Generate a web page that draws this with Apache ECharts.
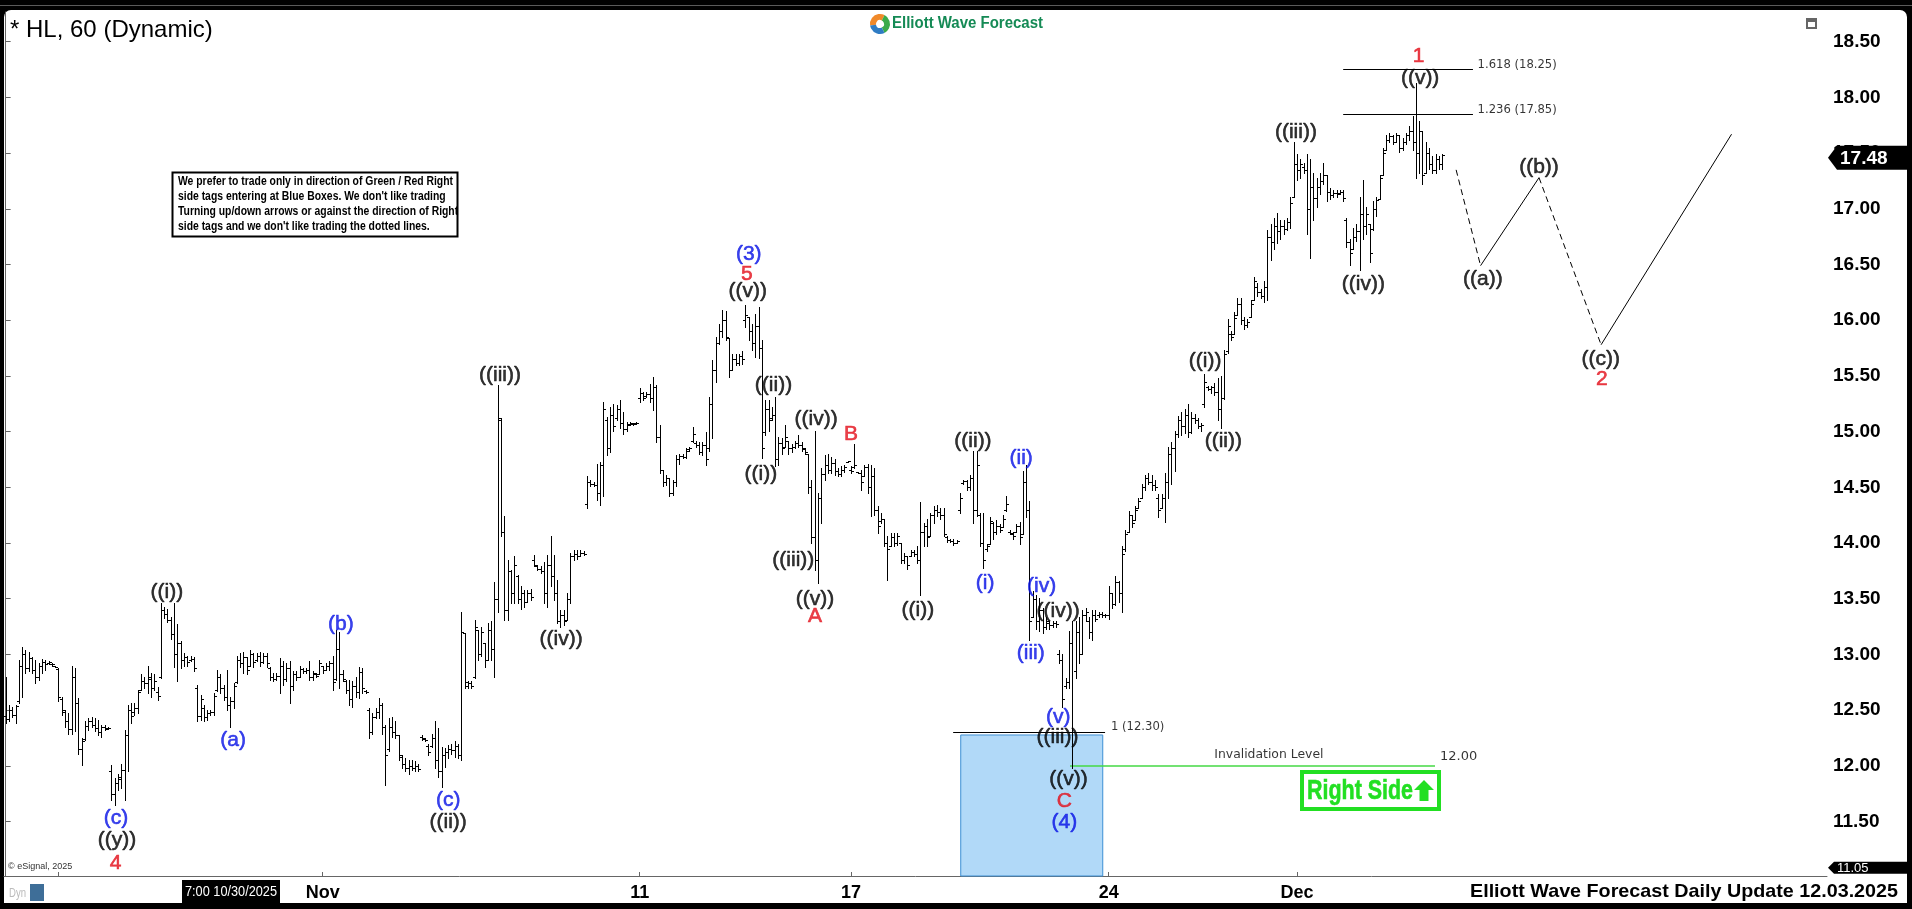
<!DOCTYPE html>
<html><head><meta charset="utf-8">
<script src="https://cdn.jsdelivr.net/npm/echarts@6/dist/echarts.min.js"></script>
<style>
html,body{margin:0;padding:0;background:#000;width:1912px;height:909px;overflow:hidden}
#topline{position:absolute;left:0;top:5px;width:1912px;height:1px;background:#5a5a5a}
#panel{position:absolute;left:4px;top:10px;width:1903px;height:893px;background:#fff;border-radius:7px 7px 0 0}
#chart{position:absolute;left:0;top:0;width:1912px;height:909px}
</style></head><body>
<div id="topline"></div>
<div id="panel"></div>
<div id="chart"></div>
<script>
// ---------- DATA (hourly OHLC, bar index 0 = first visible bar) ----------
const highs = [
12.80,12.55,12.53,12.55,12.95,13.07,13.04,13.02,12.98,12.95,
12.92,12.96,12.95,12.94,12.92,12.90,12.88,12.62,12.50,12.47,
12.90,12.88,12.61,12.25,12.40,12.43,12.44,12.43,12.41,12.37,
12.37,12.35,12.01,11.89,11.93,12.02,12.32,12.55,12.56,12.56,
12.68,12.82,12.80,12.90,12.83,12.82,12.71,13.46,13.43,13.41,
13.34,13.46,13.27,13.12,13.01,12.99,12.99,12.98,12.73,12.64,
12.55,12.50,12.50,12.65,12.86,12.82,12.73,12.86,12.62,12.74,
12.99,13.01,13.02,12.98,13.04,13.01,13.01,13.02,13.01,13.01,
12.89,12.83,12.83,12.97,12.94,12.92,12.94,12.85,12.85,12.90,
12.88,12.88,12.94,12.85,12.83,12.95,12.90,12.92,12.94,12.99,
13.22,13.20,12.86,12.77,12.77,12.76,12.80,12.89,12.88,12.68,
12.52,12.47,12.52,12.61,12.56,12.37,12.43,12.44,12.40,12.28,
12.10,12.07,12.05,12.05,12.04,12.02,12.28,12.25,12.20,12.29,
12.40,12.34,12.17,12.16,12.19,12.20,12.22,12.20,13.38,13.19,
12.76,12.76,13.31,13.22,13.25,13.10,13.28,13.30,13.65,15.42,
15.12,14.24,13.85,13.76,13.88,13.71,13.61,13.58,13.58,13.59,
13.89,13.80,13.79,13.83,13.89,14.06,13.89,13.67,13.40,13.40,
13.55,13.91,13.94,13.94,13.94,13.93,14.60,14.57,14.55,14.71,
14.73,15.27,15.13,15.22,15.25,15.24,15.28,15.18,15.09,15.09,
15.08,15.09,15.39,15.36,15.36,15.43,15.49,15.42,15.06,14.66,
14.61,14.58,14.57,14.79,14.80,14.80,14.85,14.86,15.04,14.92,
14.91,14.91,15.00,15.31,15.64,15.85,15.97,16.09,16.08,15.84,
15.70,15.70,15.70,15.72,16.14,16.03,15.97,16.06,16.12,15.82,
15.28,15.28,15.22,15.31,14.95,14.94,15.06,14.92,14.89,14.92,
14.97,14.91,14.85,14.80,14.57,15.01,14.45,14.67,14.79,14.80,
14.77,14.75,14.67,14.69,14.70,14.74,14.69,14.89,14.64,14.66,
14.70,14.71,14.70,14.67,14.33,14.27,14.22,14.06,14.09,14.09,
14.09,14.00,13.91,13.88,13.94,13.94,13.97,14.37,14.18,14.22,
14.27,14.33,14.34,14.31,14.31,14.06,14.04,14.04,14.03,14.45,
14.57,14.57,14.61,14.83,14.83,14.27,14.27,13.99,14.23,14.19,
14.21,14.17,14.25,14.42,14.12,14.10,14.17,14.19,14.65,14.70,
14.38,13.57,13.53,13.51,13.42,13.34,13.30,13.30,13.30,13.04,
13.00,12.79,13.21,13.30,13.30,13.34,13.40,13.42,13.34,13.40,
13.40,13.38,13.38,13.36,13.61,13.55,13.70,13.66,13.97,14.12,
14.29,14.25,14.33,14.40,14.53,14.61,14.63,14.61,14.57,14.44,
14.44,14.63,14.86,14.91,15.01,15.14,15.18,15.20,15.25,15.18,
15.16,15.12,15.08,15.52,15.41,15.41,15.44,15.48,15.50,15.73,
16.01,15.90,16.07,16.20,16.20,16.03,16.01,16.18,16.39,16.33,
16.28,16.35,16.81,16.86,16.92,16.96,16.90,16.90,16.92,17.11,
17.60,17.49,17.45,17.41,17.49,17.45,17.32,17.28,17.32,17.41,
17.30,17.19,17.17,17.17,17.17,17.17,16.92,16.73,16.83,16.86,
17.11,17.26,17.02,16.86,17.07,17.11,17.30,17.55,17.66,17.68,
17.66,17.68,17.66,17.64,17.68,17.74,17.83,18.13,17.79,17.70,
17.60,17.55,17.47,17.49,17.47,17.49];
const lows = [
12.38,12.40,12.44,12.38,12.56,12.62,12.83,12.85,12.83,12.74,
12.77,12.83,12.86,12.91,12.90,12.89,12.58,12.46,12.35,12.29,
12.29,12.31,12.11,12.01,12.23,12.32,12.35,12.31,12.28,12.26,
12.32,12.33,11.69,11.65,11.78,11.80,11.69,11.95,12.38,12.46,
12.47,12.68,12.70,12.65,12.62,12.68,12.59,12.79,13.33,13.29,
13.14,12.89,12.76,12.88,12.90,12.90,12.94,12.85,12.40,12.41,
12.40,12.41,12.46,12.46,12.67,12.65,12.59,12.50,12.35,12.52,
12.74,12.89,12.83,12.82,12.90,12.89,12.94,12.90,12.92,12.89,
12.77,12.76,12.77,12.65,12.73,12.76,12.56,12.68,12.77,12.80,
12.83,12.83,12.77,12.77,12.80,12.82,12.83,12.86,12.86,12.68,
12.77,12.70,12.76,12.65,12.55,12.53,12.62,12.61,12.65,12.65,
12.25,12.29,12.43,12.43,12.29,11.83,12.13,12.26,12.25,12.05,
11.98,11.95,11.93,11.96,11.95,11.95,12.23,12.22,12.10,12.17,
11.98,11.90,11.81,11.99,12.07,12.11,12.08,12.07,12.05,12.70,
12.70,12.70,12.79,12.95,12.99,12.89,12.95,12.95,12.80,13.38,
14.06,13.31,13.31,13.46,13.46,13.46,13.41,13.43,13.47,13.49,
13.79,13.76,13.73,13.46,13.43,13.61,13.49,13.28,13.25,13.26,
13.31,13.46,13.85,13.86,13.88,13.89,14.31,14.51,14.51,14.39,
14.34,14.42,14.79,14.82,15.01,15.10,15.03,14.98,15.01,15.06,
15.06,15.07,15.27,15.28,15.31,15.27,15.19,14.91,14.63,14.51,
14.52,14.42,14.43,14.51,14.71,14.76,14.76,14.83,14.91,14.86,
14.80,14.79,14.70,14.83,14.94,15.45,15.79,15.85,15.82,15.49,
15.55,15.60,15.60,15.61,15.94,15.82,15.73,15.67,15.66,14.76,
14.97,15.01,15.10,14.69,14.70,14.80,14.86,14.80,14.82,14.85,
14.86,14.83,14.80,14.45,14.00,13.76,13.64,14.18,14.57,14.63,
14.63,14.61,14.60,14.60,14.64,14.73,14.63,14.67,14.63,14.48,
14.60,14.45,14.24,14.25,14.09,14.18,13.97,13.67,13.97,13.97,
13.98,13.82,13.82,13.77,13.88,13.88,13.82,13.53,13.97,13.97,
14.06,14.18,14.24,14.22,14.06,14.01,14.01,13.98,14.00,14.27,
14.53,14.48,14.48,14.18,14.24,13.97,13.78,13.93,13.99,14.04,
14.08,14.10,14.14,14.29,14.08,14.04,14.10,13.99,14.08,14.23,
13.13,13.34,13.23,13.21,13.19,13.23,13.23,13.25,13.25,12.92,
12.53,12.70,12.70,11.98,12.79,12.92,13.00,13.30,13.15,13.13,
13.30,13.34,13.34,13.34,13.32,13.42,13.44,13.47,13.38,13.93,
14.10,14.14,14.21,14.31,14.40,14.48,14.53,14.48,14.48,14.23,
14.31,14.19,14.40,14.53,14.65,14.95,14.97,14.99,14.95,14.99,
15.08,15.03,15.01,15.22,15.37,15.35,15.33,15.10,15.03,15.29,
15.71,15.82,15.88,16.05,15.97,15.92,15.94,16.03,16.18,16.22,
16.20,16.16,16.18,16.54,16.64,16.69,16.73,16.77,16.81,16.83,
17.11,17.26,17.28,17.32,16.77,16.56,16.90,17.02,17.13,17.22,
17.07,17.09,17.11,17.11,17.13,17.07,16.66,16.50,16.64,16.71,
16.45,16.73,16.77,16.52,16.81,16.94,17.09,17.30,17.53,17.60,
17.58,17.60,17.51,17.53,17.58,17.62,17.53,17.28,17.32,17.22,
17.32,17.36,17.32,17.32,17.36,17.36];
const opens = [
12.45,12.42,12.50,12.46,12.58,12.90,13.00,12.88,12.97,12.86,
12.80,12.90,12.93,12.92,12.91,12.90,12.87,12.60,12.48,12.40,
12.33,12.80,12.56,12.15,12.24,12.36,12.40,12.37,12.34,12.30,
12.35,12.34,11.95,11.75,11.85,11.88,11.96,12.28,12.50,12.48,
12.52,12.68,12.76,12.74,12.78,12.70,12.66,12.80,13.40,13.36,
13.31,13.18,13.00,13.10,12.95,12.98,12.95,12.96,12.70,12.45,
12.52,12.44,12.47,12.48,12.68,12.80,12.70,12.62,12.55,12.58,
12.75,12.95,12.92,12.98,12.90,13.00,12.95,12.99,12.93,12.99,
12.88,12.80,12.78,12.81,12.90,12.78,12.88,12.72,12.82,12.80,
12.87,12.85,12.86,12.80,12.82,12.82,12.90,12.86,12.90,12.92,
12.78,13.05,12.82,12.76,12.68,12.60,12.72,12.66,12.84,12.67,
12.50,12.30,12.44,12.48,12.55,12.35,12.15,12.35,12.30,12.28,
12.08,12.02,11.98,12.00,11.98,12.00,12.26,12.24,12.18,12.18,
12.25,12.05,11.95,12.10,12.12,12.15,12.14,12.18,12.10,13.19,
12.72,12.74,12.80,13.22,13.00,13.10,12.95,13.22,13.05,13.50,
15.10,14.10,13.40,13.75,13.55,13.70,13.50,13.55,13.47,13.55,
13.85,13.79,13.77,13.75,13.55,13.80,13.70,13.55,13.30,13.35,
13.31,13.50,13.88,13.90,13.88,13.91,14.35,14.55,14.53,14.52,
14.45,14.70,15.10,14.85,15.15,15.12,15.20,15.08,15.02,15.07,
15.07,15.08,15.30,15.35,15.32,15.34,15.30,15.40,14.95,14.66,
14.55,14.58,14.45,14.55,14.75,14.78,14.77,14.84,14.92,14.90,
14.88,14.82,14.88,14.85,15.25,15.55,15.80,15.90,16.00,15.84,
15.55,15.65,15.62,15.68,16.00,16.03,15.90,15.80,15.95,15.75,
15.00,15.20,15.12,15.15,14.75,14.90,14.86,14.92,14.85,14.86,
14.90,14.88,14.84,14.80,14.50,14.05,13.85,14.40,14.62,14.70,
14.66,14.72,14.65,14.62,14.66,14.73,14.66,14.68,14.64,14.63,
14.60,14.68,14.50,14.60,14.30,14.20,14.22,14.00,13.97,14.05,
14.00,14.00,13.85,13.88,13.88,13.92,13.90,13.85,14.10,14.15,
14.06,14.25,14.30,14.28,14.25,14.05,14.03,14.02,14.00,14.30,
14.54,14.56,14.50,14.58,14.30,14.25,14.00,13.95,13.99,14.18,
14.10,14.15,14.14,14.30,14.10,14.08,14.10,14.15,14.08,14.55,
14.30,13.34,13.50,13.30,13.40,13.25,13.28,13.26,13.28,13.00,
12.95,12.72,12.75,13.10,12.85,13.20,13.00,13.35,13.30,13.20,
13.35,13.35,13.36,13.35,13.35,13.55,13.45,13.65,13.55,13.95,
14.10,14.25,14.21,14.31,14.40,14.50,14.58,14.55,14.52,14.40,
14.31,14.40,14.55,14.80,14.85,14.98,15.10,15.05,15.15,15.00,
15.12,15.10,15.05,15.25,15.40,15.38,15.40,15.36,15.20,15.30,
15.72,15.88,15.88,16.05,16.15,16.00,15.96,16.03,16.18,16.30,
16.25,16.22,16.30,16.75,16.70,16.85,16.80,16.85,16.82,16.88,
17.11,17.40,17.35,17.38,17.35,17.00,17.20,17.10,17.20,17.25,
17.30,17.15,17.12,17.14,17.14,17.15,16.90,16.70,16.64,16.75,
16.80,16.95,16.85,16.86,16.82,17.00,17.09,17.30,17.53,17.62,
17.65,17.60,17.66,17.55,17.60,17.66,17.70,17.60,17.50,17.70,
17.32,17.50,17.40,17.35,17.45,17.40];
const closes = [
12.42,12.50,12.46,12.54,12.90,13.00,12.88,12.97,12.86,12.80,
12.90,12.93,12.91,12.93,12.91,12.89,12.62,12.50,12.40,12.33,
12.80,12.56,12.15,12.22,12.36,12.40,12.37,12.34,12.30,12.35,
12.33,12.34,11.75,11.85,11.90,11.96,12.28,12.50,12.45,12.52,
12.66,12.76,12.74,12.80,12.70,12.76,12.63,13.40,13.36,13.31,
13.18,13.00,13.10,12.95,12.98,12.93,12.96,12.88,12.45,12.60,
12.44,12.47,12.48,12.63,12.80,12.70,12.62,12.55,12.58,12.72,
12.95,12.92,12.98,12.86,13.00,12.93,12.99,12.93,12.99,12.92,
12.80,12.78,12.81,12.90,12.78,12.88,12.72,12.82,12.80,12.87,
12.85,12.86,12.80,12.83,12.81,12.92,12.86,12.90,12.92,12.75,
13.05,12.82,12.78,12.68,12.60,12.72,12.66,12.84,12.70,12.66,
12.30,12.44,12.48,12.55,12.35,12.10,12.35,12.30,12.28,12.10,
12.02,11.98,12.00,11.98,12.00,11.97,12.25,12.23,12.12,12.25,
12.05,11.95,12.10,12.12,12.15,12.14,12.18,12.10,13.20,12.75,
12.74,12.72,13.25,13.00,13.20,12.95,13.22,13.05,13.50,15.12,
14.10,13.40,13.75,13.55,13.80,13.50,13.55,13.47,13.55,13.52,
13.80,13.77,13.75,13.55,13.80,13.70,13.55,13.30,13.35,13.30,
13.50,13.88,13.90,13.88,13.91,13.90,14.55,14.53,14.52,14.45,
14.70,15.20,14.85,15.15,15.05,15.20,15.08,15.02,15.06,15.08,
15.07,15.08,15.35,15.30,15.34,15.30,15.40,14.95,14.66,14.55,
14.58,14.45,14.55,14.75,14.78,14.77,14.83,14.85,14.98,14.88,
14.82,14.88,14.75,15.25,15.55,15.80,15.90,16.00,15.85,15.55,
15.65,15.62,15.68,15.65,16.05,15.90,15.80,15.95,15.75,14.85,
15.20,15.10,15.15,14.75,14.90,14.85,14.95,14.85,14.86,14.90,
14.88,14.85,14.82,14.50,14.05,13.85,14.40,14.62,14.70,14.66,
14.72,14.65,14.62,14.66,14.68,14.74,14.65,14.70,14.63,14.55,
14.68,14.50,14.60,14.30,14.15,14.22,14.00,13.95,14.05,14.00,
14.06,13.85,13.88,13.80,13.92,13.90,13.85,14.10,14.15,14.05,
14.25,14.30,14.28,14.25,14.08,14.03,14.02,14.00,14.02,14.40,
14.56,14.50,14.58,14.30,14.70,14.00,13.85,13.97,14.20,14.10,
14.15,14.12,14.22,14.35,14.09,14.06,14.15,14.05,14.55,14.30,
13.30,13.50,13.30,13.40,13.25,13.30,13.26,13.28,13.27,12.95,
12.60,12.75,13.10,12.30,13.20,13.00,13.35,13.38,13.20,13.35,
13.32,13.36,13.35,13.35,13.55,13.45,13.65,13.55,13.90,14.08,
14.25,14.18,14.30,14.38,14.50,14.58,14.55,14.52,14.50,14.30,
14.40,14.55,14.80,14.85,14.98,15.10,15.05,15.15,15.00,15.12,
15.10,15.05,15.06,15.45,15.38,15.40,15.36,15.20,15.30,15.70,
15.95,15.85,16.02,16.15,16.00,15.96,15.98,16.15,16.35,16.25,
16.22,16.30,16.75,16.70,16.85,16.80,16.85,16.82,16.88,17.05,
17.40,17.35,17.40,17.35,17.00,17.20,17.10,17.20,17.25,17.30,
17.15,17.12,17.14,17.13,17.15,17.10,16.70,16.60,16.75,16.80,
16.95,16.85,16.95,16.60,17.00,17.08,17.28,17.50,17.62,17.65,
17.60,17.66,17.55,17.60,17.66,17.70,17.60,17.50,17.70,17.30,
17.50,17.40,17.35,17.45,17.40,17.48];

// axis ticks
const xTickIdx = [16, 96, 192, 256, 334, 391];
const xLabelIdx = [96, 192, 256, 334, 391];
const xLabelText = ['Nov', '11', '17', '24', 'Dec'];
const yTicks = [11.5, 12, 12.5, 13, 13.5, 14, 14.5, 15, 15.5, 16, 16.5, 17, 17.5, 18, 18.5];
const lastPrice = 17.48;
const lowTag = 11.05;

// wave labels: [barIndex, price, text, colourKey]
const waveLabels = [
 [33.4, 11.53, '(c)', 'b'], [33.7, 11.33, '((y))', 'k'], [33.3, 11.13, '4', 'r'],
 [48.8, 13.56, '((i))', 'k'], [68.9, 12.23, '(a)', 'b'], [101.5, 13.27, '(b)', 'b'],
 [134.0, 11.69, '(c)', 'b'], [134.0, 11.49, '((ii))', 'k'],
 [149.7, 15.51, '((iii))', 'k'], [168.2, 13.14, '((iv))', 'k'],
 [225.0, 16.59, '(3)', 'b'], [224.4, 16.41, '5', 'r'], [224.7, 16.26, '((v))', 'k'],
 [228.7, 14.62, '((i))', 'k'], [232.5, 15.42, '((ii))', 'k'], [238.5, 13.85, '((iii))', 'k'],
 [245.4, 15.11, '((iv))', 'k'], [245.1, 13.50, '((v))', 'k'], [245.1, 13.34, 'A', 'r'],
 [256.0, 14.98, 'B', 'r'], [276.2, 13.40, '((i))', 'k'], [292.9, 14.91, '((ii))', 'k'],
 [296.6, 13.64, '(i)', 'b'], [307.5, 14.76, '(ii)', 'b'], [310.4, 13.01, '(iii)', 'b'],
 [313.7, 13.61, '(iv)', 'b'], [318.7, 13.39, '((iv))', 'k'], [318.7, 12.44, '(v)', 'b'],
 [318.5, 12.26, '((iii))', 'k'], [321.8, 11.88, '((v))', 'k'], [320.6, 11.68, 'C', 'r'],
 [320.6, 11.49, '(4)', 'b'], [363.2, 15.63, '((i))', 'k'], [368.7, 14.91, '((ii))', 'k'],
 [390.7, 17.69, '((iii))', 'k'], [411.1, 16.32, '((iv))', 'k'], [428.3, 18.17, '((v))', 'k'],
 [427.8, 18.37, '1', 'r'], [447.3, 16.37, '((a))', 'k'], [464.3, 17.37, '((b))', 'k'],
 [483.0, 15.65, '((c))', 'k'], [483.3, 15.47, '2', 'r']
];
// fibonacci levels: [fromIndex, toIndex, price]
const fibLines = [[405.0, 444.3, 18.25], [405.0, 444.3, 17.85], [286.9, 332.9, 12.30]];
const fibTexts = [[445.4, 18.29, '1.618 (18.25)'], [445.4, 17.89, '1.236 (17.85)'], [334.4, 12.35, '1 (12.30)']];
const invalidation = [322.3, 432.8, 12.00];
const invalidationTexts = [[382.5, 12.10, 'Invalidation Level'], [434.0, 12.08, '12.00']];
const blueBox = [289.2, 332.2, 12.277];
// projected path
const projSolid = [[[446.6, 16.49], [464.3, 17.28]], [[483.1, 15.78], [522.6, 17.67]]];
const projDashed = [[[439.2, 17.35], [446.6, 16.49]], [[464.3, 17.28], [483.1, 15.78]]];

const noteLines = [
 'We prefer to trade only in direction of Green / Red Right',
 "side tags entering at Blue Boxes. We don't like trading",
 'Turning up/down arrows or against the direction of Right',
 "side tags and we don't like trading the dotted lines."
];

// ---------- CHART ----------
const FONT = 'Arial, "Liberation Sans", sans-serif';
const SMALLFONT = '"DejaVu Sans", Tahoma, sans-serif';
const colours = {k: '#000', b: '#0a14e6', r: '#e3101b'};
const ohlc = highs.map((h, i) => [i, opens[i], h, lows[i], closes[i]]);

function renderOHLC(params, api) {
  const i = api.value(0);
  const h = api.value(2), l = api.value(3);
  const clamp = v => Math.max(l, Math.min(h, v));
  const pH = api.coord([i, h]);
  const pL = api.coord([i, l]);
  const pO = api.coord([i, clamp(api.value(1))]);
  const pC = api.coord([i, clamp(api.value(4))]);
  const xp = Math.round(pH[0]);
  const x = xp + 0.5;
  const y1 = Math.round(pH[1]);
  let y2 = Math.round(pL[1]) + 1;
  if (y2 - y1 < 1) y2 = y1 + 1;
  const yo = Math.round(pO[1]) + 0.5, yc = Math.round(pC[1]) + 0.5;
  const st = {stroke: '#000', lineWidth: 1};
  return {type: 'group', children: [
    {type: 'line', shape: {x1: x, y1: y1, x2: x, y2: y2}, style: st},
    {type: 'line', shape: {x1: xp - 2, y1: yo, x2: xp, y2: yo}, style: st},
    {type: 'line', shape: {x1: xp + 1, y1: yc, x2: xp + 3, y2: yc}, style: st}
  ]};
}

const Y_MIN = 11.011, Y_MAX = 18.767;
const HIDDEN = {color: 'rgba(0,0,0,0)'};
const series = [];
series.push({
  type: 'line', data: [[blueBox[0], blueBox[2]]], symbol: 'none', silent: true, z: 1,
  lineStyle: {opacity: 0},
  markArea: {silent: true, itemStyle: {color: '#b1d9f8', borderColor: '#3d8fd4', borderWidth: 1},
    data: [[{coord: [blueBox[0], blueBox[2]]}, {coord: [blueBox[1], Y_MIN]}]]}
});
series.push({
  type: 'custom', data: ohlc, renderItem: renderOHLC, silent: true, z: 5,
  encode: {x: 0, y: [1, 2, 3, 4]}, clip: true
});
series.push({
  type: 'line', data: [[fibLines[0][0], fibLines[0][2]]], symbol: 'none', silent: true, z: 4,
  lineStyle: {opacity: 0},
  markLine: {silent: true, symbol: ['none', 'none'], animation: false,
    lineStyle: {color: '#000', width: 1, type: 'solid'}, label: {show: false},
    data: fibLines.map(f => [{coord: [f[0], f[2]]}, {coord: [f[1], f[2]]}])
      .concat([[{coord: [invalidation[0], invalidation[2]], lineStyle: {color: '#45d845', width: 1.6}},
                {coord: [invalidation[1], invalidation[2]]}]])}
});
projSolid.forEach(seg => series.push({type: 'line', data: seg, symbol: 'none', silent: true, z: 4,
  lineStyle: {color: '#000', width: 1}}));
projDashed.forEach(seg => series.push({type: 'line', data: seg, symbol: 'none', silent: true, z: 4,
  lineStyle: {color: '#000', width: 1, type: [6, 4]}}));
series.push({
  type: 'scatter', symbol: 'circle', symbolSize: 2, silent: true, z: 8, itemStyle: HIDDEN,
  data: waveLabels.map(w => ({value: [w[0], w[1]], name: w[2],
    label: {color: colours[w[3]], textBorderColor: colours[w[3]]}})),
  label: {show: true, position: 'inside', formatter: '{b}', fontSize: 21, fontFamily: FONT,
    textBorderWidth: 0.6}
});
series.push({
  type: 'scatter', symbol: 'circle', symbolSize: 2, silent: true, z: 8, itemStyle: HIDDEN,
  data: fibTexts.map(w => ({value: [w[0], w[1]], name: w[2]})),
  label: {show: true, position: 'right', distance: 0, formatter: '{b}', fontSize: 11.6,
    fontFamily: SMALLFONT, color: '#000'}
});
series.push({
  type: 'scatter', symbol: 'circle', symbolSize: 2, silent: true, z: 8, itemStyle: HIDDEN,
  data: [{value: [invalidationTexts[1][0], invalidationTexts[1][1]], name: invalidationTexts[1][2]}],
  label: {show: true, position: 'right', distance: 0, formatter: '{b}', fontSize: 13,
    fontFamily: SMALLFONT, color: '#000'}
});
series.push({
  type: 'scatter', symbol: 'circle', symbolSize: 2, silent: true, z: 8, itemStyle: HIDDEN,
  data: [{value: [invalidationTexts[0][0], invalidationTexts[0][1]], name: invalidationTexts[0][2]}],
  label: {show: true, position: 'inside', formatter: '{b}', fontSize: 12.4,
    fontFamily: SMALLFONT, color: '#000'}
});

const option = {
  animation: false,
  backgroundColor: 'transparent',
  grid: {left: 4, right: 85, top: 12, bottom: 33, containLabel: false, outerBoundsMode: 'none'},
  xAxis: {
    type: 'value', min: -0.5, max: 551.5, splitLine: {show: false},
    axisLine: {show: true, lineStyle: {color: '#666', width: 1}},
    axisTick: {show: true, inside: true, length: 4, customValues: xTickIdx, lineStyle: {color: '#666'}},
    axisLabel: {show: true, customValues: xLabelIdx, margin: 8, fontSize: 18, fontWeight: 'bold',
      color: '#000', fontFamily: FONT,
      formatter: v => { const k = xLabelIdx.indexOf(Math.round(v)); return k >= 0 ? xLabelText[k] : ''; }}
  },
  yAxis: {
    type: 'value', position: 'right', min: Y_MIN, max: Y_MAX, splitLine: {show: false},
    axisLine: {show: true, lineStyle: {color: '#666', width: 1}},
    axisTick: {show: true, length: 5, customValues: yTicks, lineStyle: {color: '#666'}},
    axisLabel: {show: true, customValues: yTicks, margin: 6, fontSize: 19, fontWeight: 'bold',
      color: '#000', fontFamily: FONT, formatter: v => v.toFixed(2)}
  },
  series: series
};

const chart = echarts.init(document.getElementById('chart'), null, {renderer: 'canvas', width: 1912, height: 909});
chart.setOption(option);

// ---------- annotations (text, tags, boxes) ----------
const mctx = document.createElement('canvas').getContext('2d');
function measure(t, font) { mctx.font = font; return mctx.measureText(t).width; }
function fitText(t, font, x, y, width, fill, align) {
  const w = measure(t, font);
  const s = width / w;
  return {type: 'text', x: x, y: y, scaleX: s, scaleY: 1, z: 20, silent: true,
    style: {text: t, x: 0, y: 0, font: font, fill: fill,
      align: align || 'left', verticalAlign: 'middle', textAlign: align || 'left', textVerticalAlign: 'middle'}};
}
function txt(t, font, x, y, fill, align) {
  return {type: 'text', x: x, y: y, z: 20, silent: true,
    style: {text: t, x: 0, y: 0, font: font, fill: fill, align: align || 'left', verticalAlign: 'middle',
      textAlign: align || 'left', textVerticalAlign: 'middle'}};
}
const px = (i, p) => chart.convertToPixel({gridIndex: 0}, [i, p]);
const yLast = px(0, lastPrice)[1] + 2.5;
const yLow = px(0, lowTag)[1] - 4;
const g = [];
g.push(txt('* HL, 60 (Dynamic)', '24px ' + FONT, 10, 30, '#000'));
const lc = [880, 24];
g.push({type: 'sector', z: 20, silent: true, shape: {cx: lc[0], cy: lc[1], r: 10, r0: 4, startAngle: Math.PI * 0.95, endAngle: Math.PI * 1.65}, style: {fill: '#f0892a'}});
g.push({type: 'sector', z: 20, silent: true, shape: {cx: lc[0], cy: lc[1], r: 10, r0: 4, startAngle: Math.PI * 1.65, endAngle: Math.PI * 2.35}, style: {fill: '#3aab4a'}});
g.push({type: 'sector', z: 20, silent: true, shape: {cx: lc[0], cy: lc[1], r: 10, r0: 4, startAngle: Math.PI * 0.35, endAngle: Math.PI * 0.95}, style: {fill: '#2f7cc4'}});
g.push(fitText('Elliott Wave Forecast', 'bold 16px ' + FONT, 892, 24, 151, '#158a55'));
g.push({type: 'rect', z: 20, silent: true, shape: {x: 172.5, y: 172.5, width: 285, height: 64}, style: {fill: '#fff', stroke: '#000', lineWidth: 2}});
const noteFont = 'bold 12px ' + FONT;
const noteScale = 275 / measure(noteLines[0], noteFont);
const noteY = [181.5, 197, 212, 227];
noteLines.forEach((l, k) => {
  const t = txt(l, noteFont, 178, noteY[k], '#000');
  t.scaleX = noteScale; g.push(t);
});
g.push({type: 'rect', z: 20, silent: true, shape: {x: 1302, y: 772, width: 137, height: 37}, style: {fill: '#fff', stroke: '#22df22', lineWidth: 4}});
const rs = fitText('Right Side', 'bold 28px ' + FONT, 1307, 791, 106, '#22df22');
rs.style.stroke = '#22df22'; rs.style.lineWidth = 0.6; g.push(rs);
g.push({type: 'polygon', z: 20, silent: true, shape: {points: [[1424, 780], [1434, 790], [1428.5, 790], [1428.5, 801], [1419.5, 801], [1419.5, 790], [1414, 790]]}, style: {fill: '#22df22'}});
g.push({type: 'polygon', z: 20, silent: true, shape: {points: [[1828, yLast], [1837, yLast - 12], [1907, yLast - 12], [1907, yLast + 12], [1837, yLast + 12]]}, style: {fill: '#000'}});
g.push(txt(lastPrice.toFixed(2), 'bold 19px ' + FONT, 1840, yLast + 1, '#fff'));
g.push({type: 'polygon', z: 20, silent: true, shape: {points: [[1828, yLow], [1834, yLow - 6], [1907, yLow - 6], [1907, yLow + 6], [1834, yLow + 6]]}, style: {fill: '#000'}});
g.push(txt(lowTag.toFixed(2), '13px ' + FONT, 1837, yLow + 1, '#fff'));
g.push({type: 'rect', z: 20, silent: true, shape: {x: 1806, y: 18, width: 11, height: 11}, style: {fill: '#666'}});
g.push({type: 'rect', z: 21, silent: true, shape: {x: 1808, y: 22, width: 7, height: 5}, style: {fill: '#fff'}});
g.push(txt('© eSignal, 2025', '9px ' + FONT, 8, 867, '#333'));
g.push(fitText('Dyn', '13px ' + FONT, 9, 893, 17, '#bbb'));
g.push({type: 'rect', z: 20, silent: true, shape: {x: 30, y: 884, width: 14, height: 17}, style: {fill: '#3e6e98'}});
g.push({type: 'rect', z: 20, silent: true, shape: {x: 182, y: 880, width: 98, height: 23}, style: {fill: '#000'}});
g.push(fitText('7:00 10/30/2025', '14px ' + FONT, 185, 892, 92, '#fff'));
g.push(fitText('Elliott Wave Forecast Daily Update 12.03.2025', 'bold 19px ' + FONT, 1470, 892, 428, '#000'));

chart.setOption({graphic: {elements: g}});
</script>
</body></html>
